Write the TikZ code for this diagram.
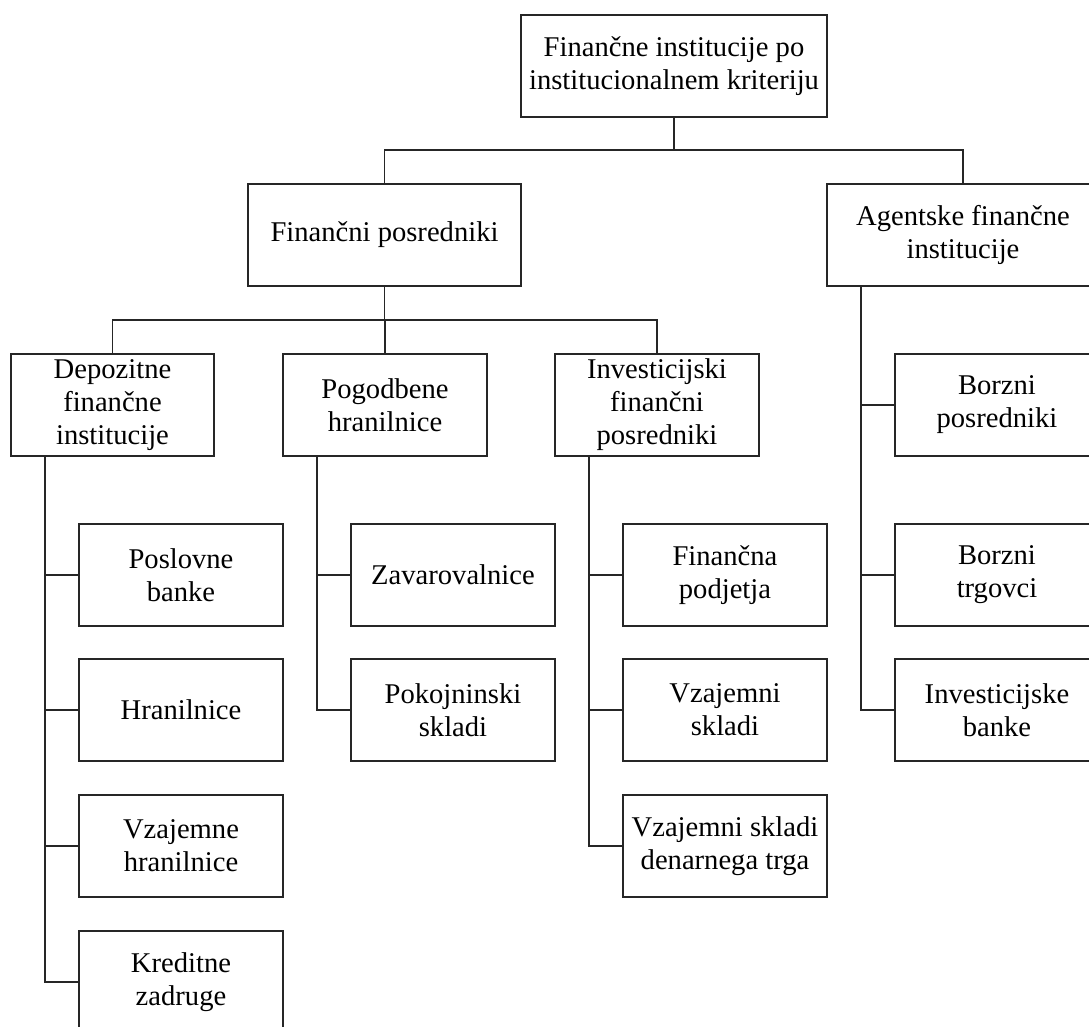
\documentclass[tikz,border=0pt]{standalone}
\usepackage{fontspec}
\setmainfont{Liberation Serif}
\begin{document}
\begin{tikzpicture}[x=1pt,y=-1pt,
  box/.style={draw=black!85, line width=1.1pt, fill=white, inner sep=2pt,
    minimum height=102pt, align=center,
    font=\fontsize{28.6}{33}\selectfont},
  wide/.style={box, minimum width=#1},
  link/.style={draw=black!85, line width=1.1pt}]
\useasboundingbox (0,0) rectangle (1089,1027);
\clip (0,0) rectangle (1089,1027);

% top level
\node[wide=306pt] (top) at (674,66) {Finančne institucije po\\institucionalnem kriteriju};

% second level
\node[wide=273pt] (fp) at (384.5,235) {Finančni posredniki};
\node[wide=272pt] (ag) at (963,235) {Agentske finančne\\institucije};

% groups of financial intermediaries
\node[wide=203pt] (dep) at (112.5,405) {Depozitne\\finančne\\institucije};
\node[wide=204pt] (pog) at (385,405) {Pogodbene\\hranilnice};
\node[wide=204pt] (inv) at (657,405) {Investicijski\\finančni\\posredniki};

% deposit institutions
\node[wide=204pt] (d1) at (181,575) {Poslovne\\banke};
\node[wide=204pt] (d2) at (181,710) {Hranilnice};
\node[wide=204pt] (d3) at (181,846) {Vzajemne\\hranilnice};
\node[wide=204pt] (d4) at (181,982) {Kreditne\\zadruge};

% contractual savings institutions
\node[wide=204pt] (p1) at (453,575) {Zavarovalnice};
\node[wide=204pt] (p2) at (453,710) {Pokojninski\\skladi};

% investment intermediaries
\node[wide=204pt] (i1) at (725,575) {Finančna\\podjetja};
\node[wide=204pt] (i2) at (725,710) {Vzajemni\\skladi};
\node[wide=204pt] (i3) at (725,846) {Vzajemni skladi\\denarnega trga};

% agency institutions
\node[wide=204pt] (a1) at (997,405) {Borzni\\posredniki};
\node[wide=204pt] (a2) at (997,575) {Borzni\\trgovci};
\node[wide=204pt] (a3) at (997,710) {Investicijske\\banke};

% junctions of the tree
\coordinate (jt) at (674,150);
\coordinate (jf) at (384.5,320);

\draw[link] (top.south) -- (jt);
\draw[link] (jt) -| (fp.north);
\draw[link] (jt) -| (ag.north);

\draw[link] (fp.south) -- (jf);
\draw[link] (jf) -| (dep.north);
\draw[link] (jf) -| (pog.north);
\draw[link] (jf) -| (inv.north);

% side spines to the leaf boxes
\foreach \p/\c in {dep/d1,dep/d2,dep/d3,dep/d4,pog/p1,pog/p2,inv/i1,inv/i2,inv/i3,ag/a1,ag/a2,ag/a3}
  \draw[link] ([xshift=34.5pt]\p.south west) |- (\c.west);
\end{tikzpicture}
\end{document}
